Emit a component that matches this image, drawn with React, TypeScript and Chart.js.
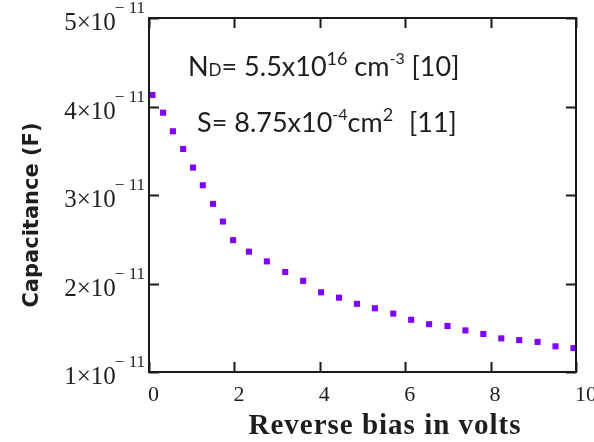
import React, { useEffect, useRef } from "react";
import { Chart, registerables } from "chart.js";

Chart.register(...registerables);

// Reverse bias (V)
const biasVolts = [
  0.08, 0.33, 0.56, 0.8, 1.03, 1.26, 1.5, 1.73, 1.97,
  2.34, 2.76, 3.19, 3.61, 4.03, 4.45, 4.87, 5.29, 5.72, 6.14,
  6.56, 6.99, 7.41, 7.83, 8.25, 8.67, 9.1, 9.52, 9.94,
];
// Capacitance in units of 1e-11 F
const capacitanceE11 = [
  4.13, 3.93, 3.72, 3.52, 3.31, 3.11, 2.9, 2.7, 2.49,
  2.36, 2.25, 2.13, 2.03, 1.9, 1.84, 1.77, 1.72, 1.66, 1.59,
  1.54, 1.52, 1.47, 1.43, 1.38, 1.36, 1.34, 1.29, 1.27,
];
const xTicks = [0, 2, 4, 6, 8, 10];
const yTickMantissas = [1, 2, 3, 4, 5];
const yTickExponent = "\u2212 11";
const xTitle = "Reverse bias in volts";
const yTitle = "Capacitance (F)";

type Run = { t: string; size: number; dy?: number; gap?: number };
const note1: Run[] = [
  { t: "N", size: 27 },
  { t: "D", size: 17 },
  { t: "= 5.5x10", size: 27 },
  { t: "16", size: 18, dy: -11 },
  { t: " cm", size: 27 },
  { t: "-3", size: 16, dy: -12 },
  { t: " [10]", size: 27 },
];
const note2: Run[] = [
  { t: "S= 8.75x10", size: 27 },
  { t: "-4", size: 16, dy: -12 },
  { t: "cm", size: 27 },
  { t: "2", size: 18, dy: -11 },
  { t: " [11]", size: 27, gap: 9 },
];

const INK = "#1e1e1e";
const NOTE_FONT = "Lato, 'Open Sans', sans-serif";

function drawRuns(ctx: CanvasRenderingContext2D, runs: Run[], x: number, y: number) {
  let cx = x;
  ctx.textAlign = "left";
  ctx.textBaseline = "alphabetic";
  for (const r of runs) {
    cx += r.gap || 0;
    ctx.font = `${r.size}px ${NOTE_FONT}`;
    ctx.fillText(r.t, cx, y + (r.dy || 0));
    cx += ctx.measureText(r.t).width;
  }
}

const framePlugin = {
  id: "mathcadFrame",
  afterDraw(chart: any) {
    const { ctx, chartArea } = chart;
    const { left, right, top, bottom } = chartArea;
    const xs = chart.scales.x;
    const ys = chart.scales.y;
    ctx.save();
    ctx.strokeStyle = "#1a1a1a";
    ctx.lineWidth = 2;
    ctx.strokeRect(left, top, right - left, bottom - top);
    const tl = 10;
    ctx.beginPath();
    for (const v of xTicks) {
      const px = Math.round(xs.getPixelForValue(v)) + 0.5;
      ctx.moveTo(px, bottom);
      ctx.lineTo(px, bottom - tl);
      ctx.moveTo(px, top);
      ctx.lineTo(px, top + tl);
    }
    for (const m of yTickMantissas) {
      const py = Math.round(ys.getPixelForValue(m * 1e-11)) + 0.5;
      ctx.moveTo(left, py);
      ctx.lineTo(left + tl, py);
      ctx.moveTo(right, py);
      ctx.lineTo(right - tl, py);
    }
    ctx.stroke();

    ctx.fillStyle = INK;
    // x tick labels (left aligned at tick)
    ctx.font = "22px 'Liberation Serif', serif";
    ctx.textAlign = "left";
    ctx.textBaseline = "alphabetic";
    for (const v of xTicks) {
      const px = xs.getPixelForValue(v);
      ctx.fillText(String(v), px - 1, bottom + 29);
    }
    // y tick labels  m×10^-11
    for (const m of yTickMantissas) {
      const py = ys.getPixelForValue(m * 1e-11);
      ctx.font = "17px 'Liberation Serif', serif";
      const sw = ctx.measureText(yTickExponent).width;
      const endX = left - 4;
      ctx.textAlign = "left";
      ctx.fillText(yTickExponent, endX - sw, py - 5);
      ctx.font = "25px 'Liberation Serif', serif";
      ctx.textAlign = "right";
      ctx.fillText(`${m}\u00d710`, endX - sw + 1, py + 12);
    }
    // axis titles
    ctx.font = "bold 29px 'Liberation Serif', serif";
    (ctx as any).letterSpacing = "1px";
    ctx.textAlign = "center";
    ctx.fillText(xTitle, 385, 434);
    (ctx as any).letterSpacing = "0px";
    ctx.save();
    ctx.translate(38, 215);
    ctx.rotate(-Math.PI / 2);
    ctx.font = "bold 21px 'DejaVu Sans', sans-serif";
    ctx.textAlign = "center";
    ctx.fillText(yTitle, 0, 0);
    ctx.restore();
    // annotations
    drawRuns(ctx, note1, 188, 76);
    drawRuns(ctx, note2, 197, 132);
    ctx.restore();
  },
};

export default function App() {
  const ref = useRef<HTMLCanvasElement | null>(null);
  useEffect(() => {
    if (!ref.current) return;
    const chart = new Chart(ref.current, {
      type: "scatter",
      data: {
        datasets: [
          {
            data: biasVolts.map((v, i) => ({ x: v, y: capacitanceE11[i] * 1e-11 })),
            pointStyle: "rect",
            pointRadius: 4.3,
            pointHoverRadius: 4.3,
            backgroundColor: "#8000ff",
            borderWidth: 0,
            showLine: false,
          },
        ],
      },
      options: {
        animation: false,
        responsive: false,
        devicePixelRatio: 1,
        layout: { padding: { left: 149, right: 18, top: 18, bottom: 70 } },
        plugins: { legend: { display: false }, tooltip: { enabled: false } },
        scales: {
          x: { type: "linear", min: 0, max: 10, display: false },
          y: { type: "linear", min: 1e-11, max: 5e-11, display: false },
        },
      },
      plugins: [framePlugin],
    });
    return () => chart.destroy();
  }, []);
  return (
    <div style={{ position: "fixed", left: 0, top: 0, width: 594, height: 442, background: "#fff" }}>
      <canvas ref={ref} width={594} height={442} />
    </div>
  );
}
